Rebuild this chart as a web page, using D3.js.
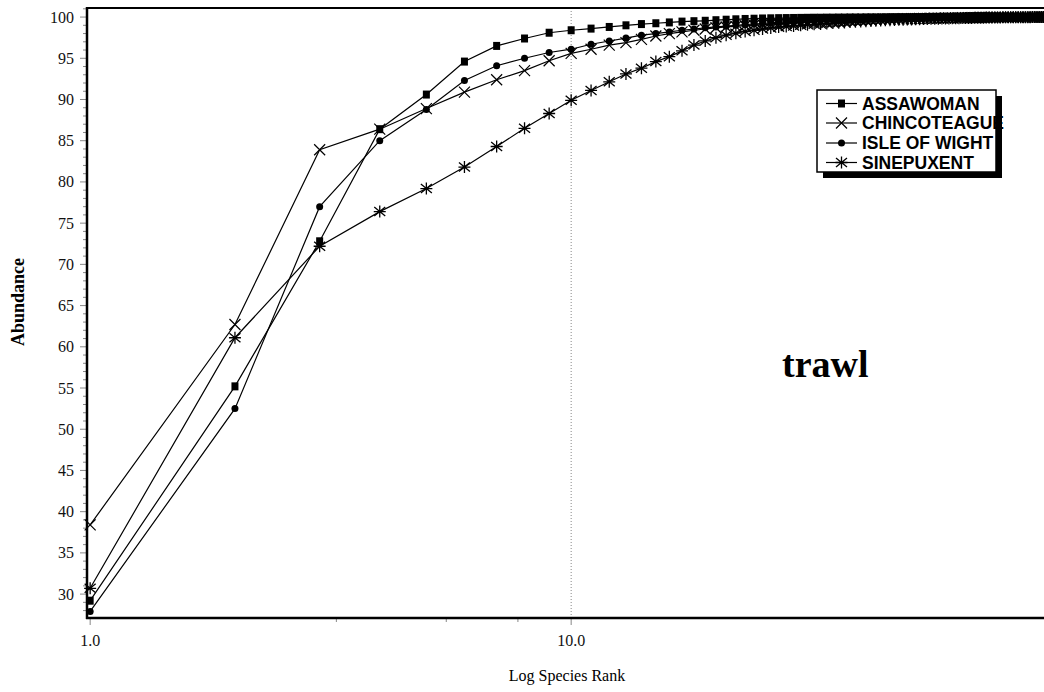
<!DOCTYPE html>
<html>
<head>
<meta charset="utf-8">
<script src="https://cdn.jsdelivr.net/npm/d3@7"></script>
<style>
  body { margin: 0; background: #fff; }
  svg { display: block; }
</style>
</head>
<body>
<svg id="chart" width="1044" height="692"></svg>
<script>
// Cumulative abundance (%) by species rank, trawl samples, four coastal bays
const seriesNames = ["ASSAWOMAN", "CHINCOTEAGUE", "ISLE OF WIGHT", "SINEPUXENT"];
const seriesSymbols = ["square", "cross", "circle", "star"];

const assawoman = [
  29.2, 55.2, 72.8, 86.4, 90.6, 94.6, 96.5, 97.4, 98.1, 98.4,
  98.6, 98.8, 99.0, 99.15, 99.25, 99.35, 99.45, 99.5, 99.55, 99.62,
  99.68, 99.73, 99.77, 99.8, 99.83, 99.85, 99.87, 99.88, 99.89, 99.9,
  99.91, 99.92, 99.92, 99.93, 99.93, 99.94, 99.94, 99.95, 99.95, 99.95,
  99.96, 99.96, 99.96, 99.96, 99.96, 99.97, 99.97, 99.97, 99.97, 99.97,
  99.97, 99.98, 99.98, 99.98, 99.98, 99.98, 99.98, 99.98, 99.98, 99.98,
  99.98, 99.99, 99.99, 99.99, 99.99, 99.99, 99.99, 99.99, 99.99, 99.99,
  99.99, 99.99, 99.99, 99.99, 99.99, 99.99, 99.99, 99.99, 99.99, 100,
  100, 100, 100, 100, 100, 100, 100, 100, 100, 100,
  100, 100
];

const chincoteague = [
  38.4, 62.7, 83.9, 86.4, 88.9, 90.9, 92.4, 93.5, 94.7, 95.6,
  96.1, 96.6, 96.9, 97.3, 97.7, 98.0, 98.2, 98.4, 98.55, 98.7,
  98.8, 98.88, 98.95, 99.02, 99.08, 99.14, 99.2, 99.25, 99.3, 99.34,
  99.38, 99.42, 99.45, 99.48, 99.51, 99.54, 99.57, 99.6, 99.62, 99.64,
  99.66, 99.68, 99.7, 99.72, 99.74, 99.76, 99.77, 99.78, 99.79, 99.8,
  99.81, 99.82, 99.83, 99.84, 99.85, 99.86, 99.87, 99.88, 99.88, 99.89,
  99.9, 99.9, 99.91, 99.91, 99.92, 99.92, 99.93, 99.93, 99.94, 99.94,
  99.95, 99.95, 99.95, 99.96, 99.96, 99.96, 99.97, 99.97, 99.97, 99.97,
  99.98, 99.98, 99.98, 99.98, 99.98, 99.99, 99.99, 99.99, 99.99, 99.99,
  99.99, 99.99, 100, 100, 100, 100, 100, 100, 100, 100
];

const isleOfWight = [
  27.9, 52.5, 77.0, 85.0, 88.8, 92.3, 94.1, 95.0, 95.7, 96.1,
  96.7, 97.1, 97.45, 97.8, 98.0, 98.2, 98.4, 98.55, 98.7, 98.8,
  98.9, 99.0, 99.08, 99.16, 99.23, 99.3, 99.36, 99.42, 99.47, 99.52,
  99.56, 99.6, 99.63, 99.66, 99.69, 99.72, 99.74, 99.76, 99.78, 99.8,
  99.82, 99.83, 99.84, 99.85, 99.86, 99.87, 99.88, 99.89, 99.9, 99.9,
  99.91, 99.91, 99.92, 99.92, 99.93, 99.93, 99.94, 99.94, 99.95, 99.95,
  99.95, 99.96, 99.96, 99.96, 99.97, 99.97, 99.97, 99.97, 99.98, 99.98,
  99.98, 99.98, 99.98, 99.99, 99.99, 99.99, 99.99, 99.99, 99.99, 99.99,
  100, 100, 100, 100, 100, 100, 100, 100, 100, 100,
  100, 100, 100, 100, 100, 100
];

const sinepuxent = [
  30.7, 61.1, 72.2, 76.4, 79.2, 81.8, 84.3, 86.5, 88.3, 89.9,
  91.1, 92.15, 93.1, 93.8, 94.6, 95.2, 95.9, 96.6, 97.1, 97.5,
  97.8, 98.05, 98.25, 98.4, 98.55, 98.68, 98.78, 98.86, 98.93, 99.0,
  99.06, 99.12, 99.17, 99.22, 99.27, 99.31, 99.35, 99.39, 99.43, 99.46,
  99.49, 99.52, 99.55, 99.58, 99.6, 99.62, 99.64, 99.66, 99.68, 99.7,
  99.72, 99.73, 99.75, 99.76, 99.78, 99.79, 99.8, 99.81, 99.82, 99.83,
  99.84, 99.85, 99.86, 99.87, 99.88, 99.89, 99.9, 99.9, 99.91, 99.92,
  99.92, 99.93, 99.94, 99.94, 99.95, 99.95, 99.96, 99.96, 99.97, 99.97,
  99.97, 99.98, 99.98, 99.98, 99.98, 99.99, 99.99, 99.99, 99.99, 99.99,
  100, 100, 100, 100, 100, 100, 100, 100
];

const yMajorTicks = [30, 35, 40, 45, 50, 55, 60, 65, 70, 75, 80, 85, 90, 95, 100];
const xMajorTicks = [1, 10];
const xTickLabels = ["1.0", "10.0"];
const xMinorTicks = [3.25, 5.5, 7.75];
const panelLabel = "trawl";

const allSeries = [assawoman, chincoteague, isleOfWight, sinepuxent];

// ---- layout ----
const plotLeft = 87, plotTop = 8, plotBottom = 618, plotRight = 1044;

const x = d3.scaleLog().domain([0.985, 100]).range([plotLeft, plotLeft + 481 * Math.log10(100 / 0.985)]);
const y = d3.scaleLinear().domain([27.1, 101.1]).range([plotBottom, plotTop]);

const svg = d3.select("#chart");
const serif = "'Liberation Serif', 'Times New Roman', serif";
const sans = "'Liberation Sans', Arial, sans-serif";

// marker shapes
function drawSymbol(g, type, cx, cy) {
  if (type === "square") {
    g.append("rect").attr("x", cx - 3.5).attr("y", cy - 4).attr("width", 7).attr("height", 8).attr("fill", "#000");
  } else if (type === "circle") {
    g.append("circle").attr("cx", cx).attr("cy", cy).attr("r", 3.5).attr("fill", "#000");
  } else if (type === "cross") {
    g.append("path")
      .attr("d", `M${cx - 5.5},${cy - 5.5}L${cx + 5.5},${cy + 5.5}M${cx - 5.5},${cy + 5.5}L${cx + 5.5},${cy - 5.5}`)
      .attr("stroke", "#000").attr("stroke-width", 1.2).attr("fill", "none");
  } else if (type === "star") {
    g.append("path")
      .attr("d", `M${cx},${cy - 6}L${cx},${cy + 6}M${cx - 5.5},${cy - 4.5}L${cx + 5.5},${cy + 4.5}M${cx - 5.5},${cy + 4.5}L${cx + 5.5},${cy - 4.5}M${cx - 6},${cy}L${cx + 6},${cy}`)
      .attr("stroke", "#000").attr("stroke-width", 1.3).attr("fill", "none");
  }
}

// reference line at rank 10
svg.append("line")
  .attr("x1", x(10)).attr("x2", x(10))
  .attr("y1", plotTop).attr("y2", plotBottom)
  .attr("stroke", "#888").attr("stroke-width", 1).attr("stroke-dasharray", "1,2");

// y axis ticks
const minorY = d3.range(28, 102).filter(v => v % 5 !== 0);
svg.append("g").selectAll("line").data(minorY).join("line")
  .attr("x1", plotLeft - 4).attr("x2", plotLeft)
  .attr("y1", d => y(d)).attr("y2", d => y(d))
  .attr("stroke", "#888").attr("stroke-width", 1);
svg.append("g").selectAll("line").data(yMajorTicks).join("line")
  .attr("x1", plotLeft - 7).attr("x2", plotLeft)
  .attr("y1", d => y(d)).attr("y2", d => y(d))
  .attr("stroke", "#888").attr("stroke-width", 1);
svg.append("g").selectAll("text").data(yMajorTicks).join("text")
  .attr("x", 74).attr("y", d => y(d) + 5.5)
  .attr("text-anchor", "end")
  .attr("font-family", serif).attr("font-size", 16).attr("fill", "#111")
  .text(d => d);

// x axis ticks
svg.append("g").selectAll("line").data(xMinorTicks).join("line")
  .attr("x1", d => x(d)).attr("x2", d => x(d))
  .attr("y1", plotBottom).attr("y2", plotBottom + 4)
  .attr("stroke", "#888").attr("stroke-width", 1);
svg.append("g").selectAll("line").data(xMajorTicks).join("line")
  .attr("x1", d => x(d)).attr("x2", d => x(d))
  .attr("y1", plotBottom).attr("y2", plotBottom + 7)
  .attr("stroke", "#888").attr("stroke-width", 1);
svg.append("g").selectAll("text").data(xMajorTicks).join("text")
  .attr("x", d => x(d)).attr("y", 646)
  .attr("text-anchor", "middle")
  .attr("font-family", serif).attr("font-size", 16).attr("fill", "#111")
  .text((d, i) => xTickLabels[i]);

// series lines and markers
const line = d3.line().x((d, i) => x(i + 1)).y(d => y(d));
allSeries.forEach(vals => {
  svg.append("path")
    .attr("d", line(vals))
    .attr("fill", "none").attr("stroke", "#000").attr("stroke-width", 1.2);
});
allSeries.forEach((vals, s) => {
  const g = svg.append("g");
  vals.forEach((v, i) => drawSymbol(g, seriesSymbols[s], x(i + 1), y(v)));
});

// frame
svg.append("line").attr("x1", plotLeft).attr("x2", plotRight).attr("y1", plotTop).attr("y2", plotTop)
  .attr("stroke", "#000").attr("stroke-width", 2);
svg.append("line").attr("x1", plotLeft).attr("x2", plotLeft).attr("y1", plotTop - 1).attr("y2", plotBottom + 1)
  .attr("stroke", "#000").attr("stroke-width", 2.5);
svg.append("line").attr("x1", plotLeft - 1).attr("x2", plotRight).attr("y1", plotBottom).attr("y2", plotBottom)
  .attr("stroke", "#000").attr("stroke-width", 2.5);

// axis titles
svg.append("text")
  .attr("transform", "translate(24,302) rotate(-90)")
  .attr("text-anchor", "middle")
  .attr("font-family", serif).attr("font-weight", "bold").attr("font-size", 18)
  .text("Abundance");
svg.append("text")
  .attr("x", 567).attr("y", 681)
  .attr("text-anchor", "middle")
  .attr("font-family", serif).attr("font-size", 16)
  .text("Log Species Rank");

// panel label
svg.append("text")
  .attr("x", 782).attr("y", 377)
  .attr("font-family", serif).attr("font-weight", "bold").attr("font-size", 38)
  .text(panelLabel);

// legend
const lg = { x: 817, y: 90, w: 179, h: 82, sh: 6 };
const legend = svg.append("g");
legend.append("rect").attr("x", lg.x + lg.sh).attr("y", lg.y + lg.sh).attr("width", lg.w).attr("height", lg.h).attr("fill", "#000");
legend.append("rect").attr("x", lg.x).attr("y", lg.y).attr("width", lg.w).attr("height", lg.h).attr("fill", "#fff");
const rowY = [103.5, 123, 143, 162.5];
seriesNames.forEach((name, i) => {
  const cy = rowY[i];
  legend.append("line").attr("x1", 826).attr("x2", 857).attr("y1", cy).attr("y2", cy)
    .attr("stroke", "#000").attr("stroke-width", 1.2);
  drawSymbol(legend, seriesSymbols[i], 841.5, cy);
  legend.append("text")
    .attr("x", 862).attr("y", cy + 6.3)
    .attr("font-family", sans).attr("font-weight", "bold").attr("font-size", 17.5)
    .text(name);
});
// right-hand shadow strip and border drawn over any overflowing label
legend.append("rect").attr("x", lg.x + lg.w).attr("y", lg.y + lg.sh).attr("width", lg.sh).attr("height", lg.h)
  .attr("fill", "#000");
legend.append("rect").attr("x", lg.x).attr("y", lg.y).attr("width", lg.w).attr("height", lg.h)
  .attr("fill", "none").attr("stroke", "#000").attr("stroke-width", 1.5);
</script>
</body>
</html>
